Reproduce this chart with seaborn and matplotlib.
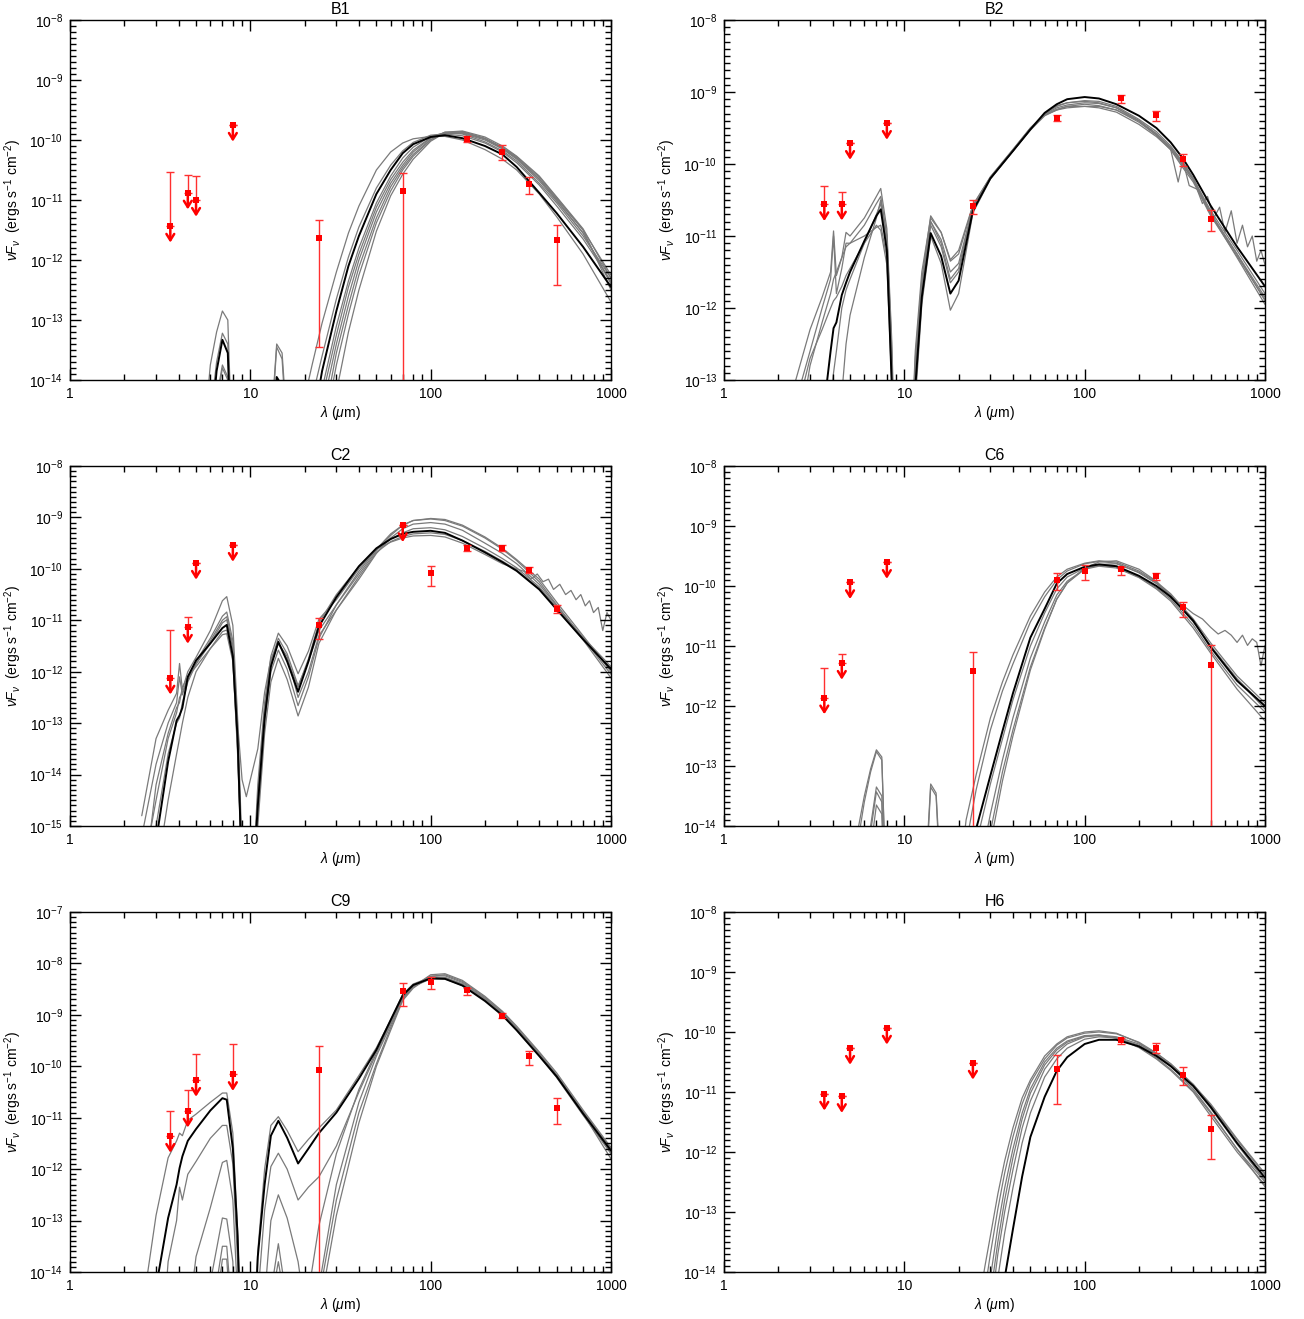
import numpy as np
import matplotlib
matplotlib.use("Agg")
import matplotlib.pyplot as plt
import matplotlib.ticker as mticker
import matplotlib.transforms as mtransforms
import seaborn as sns

# ====================== DATA (model curves stored as log10 of nuF_nu) ======================
# ---------- B1 ----------
B1_wl = [5.5, 6.0, 6.5, 7.0, 7.5, 8.0, 13, 14, 15, 16, 20, 22, 25, 30, 35, 40, 50, 60, 70, 80,
         100, 120, 150, 200, 250, 300, 400, 500, 700, 1000]
B1_best = [-17, -15, -13.85, -13.33, -13.55, -16, -15.5, -13.95, -14.1, -15.5, -15.5, -14.8, -13.85, -12.85,
           -12.1, -11.6, -10.9, -10.5, -10.22, -10.07, -9.95, -9.92, -9.97, -10.1, -10.24, -10.45, -10.88,
           -11.22, -11.78, -12.45]
B1_models = [
    [-15.0, -13.75, -13.2, -12.85, -13.0, -15.5, -14.8, -13.4, -13.55, -14.8, -14.3, -13.75, -13.05, -12.2,
     -11.55, -11.1, -10.5, -10.2, -10.05, -9.98, -9.94, -9.94, -10.0, -10.16, -10.32, -10.5, -10.9, -11.28,
     -11.9, -12.7],
    [-16, -14.6, -13.7, -13.22, -13.4, -16, -14.9, -13.45, -13.65, -15, -15.0, -14.3, -13.6, -12.65, -11.95,
     -11.45, -10.8, -10.42, -10.18, -10.04, -9.92, -9.9, -9.93, -10.05, -10.2, -10.38, -10.75, -11.1, -11.65,
     -12.35],
    [-17, -15.5, -14.3, -13.75, -13.95, -16, -20, -20, -20, -20, -17, -15.0, -14.15, -13.1, -12.35, -11.8,
     -11.05, -10.6, -10.3, -10.12, -9.94, -9.88, -9.9, -10.03, -10.18, -10.35, -10.72, -11.05, -11.6, -12.3],
    [-17, -15.6, -14.4, -13.8, -14.0, -16, -20, -20, -20, -20, -18, -16, -14.5, -13.4, -12.6, -12.0, -11.2,
     -10.72, -10.42, -10.2, -9.97, -9.87, -9.87, -9.98, -10.14, -10.3, -10.65, -10.98, -11.5, -12.25],
    [-20, -20, -20, -20, -20, -20, -20, -20, -20, -20, -19, -17, -15.0, -13.75, -12.9, -12.25, -11.38, -10.85,
     -10.5, -10.27, -10.0, -9.87, -9.85, -9.95, -10.1, -10.27, -10.6, -10.95, -11.48, -12.3],
    [-20, -20, -20, -20, -20, -20, -20, -20, -20, -20, -20, -18, -15.5, -14.2, -13.2, -12.5, -11.52, -10.93,
     -10.57, -10.32, -10.02, -9.88, -9.86, -9.97, -10.13, -10.3, -10.65, -11.0, -11.55, -12.4],
    [-20, -20, -20, -20, -20, -20, -20, -20, -20, -20, -18, -16, -14.3, -13.25, -12.45, -11.9, -11.12, -10.66,
     -10.37, -10.17, -9.96, -9.88, -9.89, -10.0, -10.15, -10.32, -10.68, -11.02, -11.55, -12.38],
    [-20, -20, -20, -20, -20, -20, -20, -20, -20, -20, -19, -17, -14.8, -13.55, -12.75, -12.12, -11.3, -10.78,
     -10.46, -10.24, -9.99, -9.89, -9.88, -9.98, -10.12, -10.28, -10.62, -10.96, -11.5, -12.5],
]
B1_obs_wl = [3.6, 4.5, 5.0, 8.0, 24, 70, 160, 250, 350, 500]
B1_obs_flux = [3.7e-12, 1.32e-11, 1.0e-11, 1.78e-10, 2.36e-12, 1.41e-11, 1.03e-10, 6.4e-11, 1.87e-11, 2.19e-12]
B1_obs_lo = [3.7e-12, 1.32e-11, 1.0e-11, 1.78e-10, 3.5e-14, 1e-16, 9.3e-11, 4.7e-11, 1.26e-11, 3.8e-13]
B1_obs_hi = [2.9e-11, 2.64e-11, 2.55e-11, 1.78e-10, 4.6e-12, 2.8e-11, 1.17e-10, 8.1e-11, 2.4e-11, 3.9e-12]
B1_obs_upper = [1, 1, 1, 1, 0, 0, 0, 0, 0, 0]

# ---------- B2 ----------
B2_wl = [2.5, 3.0, 3.5, 3.9, 4.05, 4.2, 4.5, 4.75, 5.0, 6.0, 7.0, 7.4, 8.0, 8.5, 9.0, 10.5, 11.5, 12.5, 14,
         16, 18, 20, 24, 30, 40, 50, 60, 70, 80, 100, 120, 150, 200, 250, 300, 350, 400, 500, 700, 1000]
B2_best = [-16, -15, -13.6, -12.6, -12.28, -12.2, -11.82, -11.65, -11.5, -11.07, -10.72, -10.63, -11.2, -13.0,
           -15, -15, -13.1, -11.85, -10.96, -11.28, -11.8, -11.62, -10.65, -10.2, -9.82, -9.52, -9.29, -9.17,
           -9.1, -9.07, -9.09, -9.17, -9.33, -9.5, -9.7, -9.92, -10.15, -10.58, -11.15, -11.7]
B2_models = [
    [-13.0, -12.3, -11.85, -11.5, -10.93, -11.55, -11.3, -10.95, -11.0, -10.75, -10.45, -10.34, -10.9, -12.4,
     -14.5, -15, -12.7, -11.6, -10.72, -10.95, -11.35, -11.25, -10.58, -10.18, -9.8, -9.5, -9.3, -9.2, -9.15,
     -9.12, -9.13, -9.2, -9.38, -9.55, -9.75, -9.97, -10.2, -10.65, -11.2, -11.8],
    [-13.3, -12.6, -12.0, -11.6, -11.0, -11.8, -11.45, -11.1, -11.1, -10.85, -10.55, -10.45, -11.0, -12.6,
     -15, -15, -12.8, -11.7, -10.8, -11.05, -11.5, -11.38, -10.6, -10.19, -9.81, -9.51, -9.31, -9.22, -9.18,
     -9.15, -9.16, -9.22, -9.4, -9.58, -9.78, -10.0, -10.22, -10.7, -11.25, -11.85],
    [-14, -12.8, -12.2, -11.8, -11.6, -11.5, -11.3, -11.15, -11.1, -11.0, -10.88, -10.85, -11.3, -12.8, -15,
     -15, -13.0, -11.8, -10.85, -11.15, -11.65, -11.5, -10.62, -10.2, -9.82, -9.52, -9.32, -9.24, -9.2, -9.17,
     -9.19, -9.25, -9.42, -9.6, -9.8, -10.05, -10.25, -10.72, -11.28, -11.88],
    [-16, -16, -15, -13.3, -12.9, -12.6, -12.0, -11.75, -11.6, -11.1, -10.7, -10.55, -11.1, -12.7, -15, -15,
     -13.3, -11.95, -11.0, -11.38, -12.03, -11.8, -10.68, -10.21, -9.82, -9.52, -9.3, -9.19, -9.15, -9.13,
     -9.15, -9.22, -9.4, -9.58, -9.77, -9.98, -10.2, -10.68, -11.25, -11.9],
    [-17, -17, -16, -16, -16, -15, -13.2, -12.5, -12.1, -11.3, -10.75, -10.5, -11.0, -12.5, -15, -15, -12.9,
     -11.7, -10.8, -11.1, -11.6, -11.45, -10.6, -10.2, -9.82, -9.53, -9.33, -9.25, -9.2, -9.2, -9.22, -9.28,
     -9.45, -9.62, -9.8, -10.02, -10.22, -10.7, -11.3, -11.95],
    [-13.5, -12.7, -12.3, -12.0, -11.9, -11.85, -11.7, -11.55, -11.45, -11.1, -10.85, -10.92, -11.4, -13.0,
     -15, -15, -12.6, -11.5, -10.75, -10.95, -11.33, -11.2, -10.57, -10.18, -9.8, -9.5, -9.32, -9.25, -9.22,
     -9.2, -9.2, -9.25, -9.4, -9.6, -9.8, np.nan, np.nan, np.nan, np.nan, np.nan],
]
B2_noisy_wl = [300, 330, 350, 380, 420, 450, 480, 520, 560, 600, 650, 700, 750, 800, 850, 900, 950, 1000]
B2_noisy = [-9.8, -10.25, -9.95, -10.3, -10.35, -10.55, -10.45, -10.75, -10.6, -10.95, -10.65, -11.1, -10.85,
            -11.15, -11.0, -11.35, -11.2, -11.4]
B2_obs_wl = [3.6, 4.5, 5.0, 8.0, 24, 70, 160, 250, 350, 500]
B2_obs_flux = [2.75e-11, 2.8e-11, 1.95e-10, 3.7e-10, 2.57e-11, 4.33e-10, 8.2e-10, 4.8e-10, 1.17e-10, 1.7e-11]
B2_obs_lo = [2.75e-11, 2.8e-11, 1.95e-10, 3.7e-10, 2.0e-11, 3.9e-10, 7.1e-10, 3.9e-10, 9.3e-11, 1.18e-11]
B2_obs_hi = [5.0e-11, 4.1e-11, 1.95e-10, 3.7e-10, 3.2e-11, 4.8e-10, 9.1e-10, 5.5e-10, 1.38e-10, 2.3e-11]
B2_obs_upper = [1, 1, 1, 1, 0, 0, 0, 0, 0, 0]

# ---------- C2 ----------
C2_wl = [2.5, 3.0, 3.5, 3.9, 4.05, 4.2, 4.5, 5.0, 6.0, 7.0, 7.4, 8.0, 8.5, 9.0, 9.5, 10, 11, 12, 13, 14.3,
         16, 18.4, 21, 24, 30, 40, 50, 60, 70, 80, 100, 120, 150, 200, 250, 300, 400, 500, 700, 1000]
C2_best = [-17, -15.3, -13.75, -12.95, -12.85, -12.7, -12.1, -11.78, -11.45, -11.15, -11.09, -11.7, -13.3,
           -16, -17, -17, -14.6, -12.9, -11.9, -11.42, -11.8, -12.39, -11.8, -11.12, -10.55, -9.95, -9.6,
           -9.42, -9.32, -9.28, -9.26, -9.3, -9.45, -9.68, -9.87, -10.04, -10.4, -10.79, -11.37, -11.95]
C2_models = [
    [-14.8, -13.3, -12.75, -12.42, -11.84, -12.35, -12.0, -11.72, -11.2, -10.62, -10.54, -11.1, -12.9, -15.5,
     -17, -17, -14.2, -12.6, -11.7, -11.25, -11.5, -12.04, -11.6, -10.98, -10.6, -10.0, -9.62, -9.32, -9.15,
     -9.06, -9.02, -9.04, -9.15, -9.38, -9.6, -9.82, -10.2, -10.65, -11.3, -12.0],
    [-15.2, -13.8, -13.0, -12.6, -12.1, -12.45, -12.1, -11.8, -11.35, -10.92, -10.84, -11.4, -13.2, -16, -17,
     -17, -14.4, -12.75, -11.8, -11.35, -11.65, -12.27, -11.8, -11.2, -10.7, -10.1, -9.65, -9.35, -9.15,
     -9.06, -9.03, -9.06, -9.17, -9.4, -9.62, -9.84, -10.25, -10.7, -11.35, -12.05],
    [-16, -14.5, -13.3, -12.8, -12.5, -12.4, -12.15, -11.85, -11.4, -11.0, -10.93, -11.5, -13.0, -14.1,
     -14.43, -14.1, -13.5, -12.4, -11.75, -11.45, -11.7, -12.5, -12.0, -11.3, -10.8, -10.2, -9.7, -9.4,
     -9.22, -9.13, -9.1, -9.13, -9.25, -9.5, -9.7, -9.9, -10.3, -10.72, -11.35, -11.95],
    [-17, -15, -13.6, -13.0, -12.9, -12.6, -12.2, -11.85, -11.45, -11.05, -10.99, -11.55, -13.4, -16, -17,
     -17, -14.8, -13.0, -12.0, -11.58, -11.95, -12.66, -12.1, -11.35, -10.7, -10.05, -9.62, -9.42, -9.3,
     -9.22, -9.2, -9.24, -9.37, -9.6, -9.8, -9.98, -10.35, -10.75, -11.33, -11.9],
    [-17, -16, -14.5, -13.6, -13.3, -13.0, -12.5, -12.0, -11.55, -11.22, -11.19, -11.75, -13.6, -16, -17,
     -17, -15, -13.2, -12.2, -11.74, -12.15, -12.86, -12.3, -11.45, -10.8, -10.15, -9.68, -9.47, -9.37,
     -9.32, -9.3, -9.33, -9.45, -9.66, -9.85, -10.02, -10.38, -10.78, -11.38, -12.12],
    [-16.5, -14.2, -13.2, -12.7, -12.6, -12.3, -12.1, -11.9, -11.55, -11.28, -11.26, -11.8, -13.5, -16, -17,
     -17, -14.5, -12.8, -11.85, -11.45, -11.75, -12.3, -11.75, -11.05, -10.5, -9.95, -9.62, -9.48, -9.4,
     -9.36, -9.35, -9.38, -9.5, -9.72, -9.9, -10.0, np.nan, np.nan, np.nan, np.nan],
]
C2_noisy_wl = [300, 330, 360, 390, 420, 450, 480, 520, 560, 600, 640, 680, 720, 760, 800, 850, 900, 950, 1000]
C2_noisy = [-10.0, -10.05, -10.2, -10.1, -10.25, -10.2, -10.4, -10.3, -10.5, -10.42, -10.6, -10.5, -10.72,
            -10.62, -10.85, -10.75, -11.2, -10.85, -11.0]
C2_obs_wl = [3.6, 4.5, 5.0, 8.0, 24, 70, 100, 160, 250, 350, 500]
C2_obs_flux = [7.6e-13, 7.4e-12, 1.3e-10, 2.9e-10, 8.1e-12, 7.0e-10, 8.3e-11, 2.58e-10, 2.55e-10, 9.3e-11, 1.69e-11]
C2_obs_lo = [7.6e-13, 7.4e-12, 1.3e-10, 2.9e-10, 4.3e-12, 7.0e-10, 4.6e-11, 2.2e-10, 2.2e-10, 8.3e-11, 1.38e-11]
C2_obs_hi = [6.6e-12, 1.15e-11, 1.3e-10, 2.9e-10, 1.12e-11, 7.0e-10, 1.14e-10, 2.9e-10, 2.9e-10, 1.07e-10, 2.0e-11]
C2_obs_upper = [1, 1, 1, 1, 0, 1, 0, 0, 0, 0, 0]

# ---------- C6 ----------
C6_wl = [5.5, 6.0, 6.5, 7.0, 7.5, 8.0, 13, 14, 15, 16, 20, 22, 25, 30, 35, 40, 50, 60, 70, 80,
         100, 120, 150, 200, 250, 300, 400, 500, 700, 1000]
C6_best = [-20, -20, -20, -20, -20, -20, -20, -20, -20, -20, -16, -15, -14.05, -13.16, -12.42, -11.79, -10.86,
           -10.38, -9.96, -9.8, -9.68, -9.64, -9.67, -9.83, -10.0, -10.18, -10.58, -11.02, -11.58, -12.0]
C6_models = [
    [-14.1, -13.5, -13.05, -12.73, -12.85, -15.5, -15, -13.3, -13.45, -15, -15, -13.9, -13.15, -12.2, -11.6,
     -11.15, -10.5, -10.1, -9.85, -9.72, -9.62, -9.58, -9.6, -9.75, -9.93, -10.13, -10.55, -10.95, -11.5, -11.95],
    [-14.3, -13.6, -13.1, -12.76, -12.9, -15.5, -15.2, -13.35, -13.5, -15.2, -15.5, -14.3, -13.4, -12.4,
     -11.75, -11.3, -10.6, -10.18, -9.9, -9.75, -9.63, -9.59, -9.62, -9.78, -9.96, -10.16, -10.6, -11.0,
     -11.55, -12.05],
    [-16, -15, -14.0, -13.35, -13.5, -16, -20, -20, -20, -20, -17, -15.5, -14.3, -13.3, -12.55, -11.9, -11.0,
     -10.45, -10.05, -9.85, -9.7, -9.66, -9.68, -9.85, -10.03, -10.22, -10.65, -11.08, -11.65, -12.1],
    [-16.5, -15.2, -14.1, -13.43, -13.6, -16, -20, -20, -20, -20, -18, -16, -15.0, -13.8, -12.9, -12.2, -11.2,
     -10.6, -10.15, -9.92, -9.72, -9.67, -9.7, -9.86, -10.05, -10.25, -10.7, -11.12, -11.72, -12.25],
    [-17, -15.5, -14.4, -13.65, -13.8, -16.5, -20, -20, -20, -20, -19, -17, -15.5, -14.1, -13.1, -12.4,
     -11.35, -10.7, -10.22, -9.95, -9.72, -9.64, -9.63, -9.77, -9.95, -10.15, -10.58, -11.0, -11.55, -12.0],
    [-20, -20, -20, -20, -20, -20, -20, -20, -20, -20, -19, -17.5, -15.8, -14.3, -13.25, -12.5, -11.4, -10.72,
     -10.22, -9.95, -9.7, -9.6, -9.58, -9.72, -9.92, np.nan, np.nan, np.nan, np.nan, np.nan],
]
C6_noisy_wl = [250, 300, 350, 400, 450, 500, 550, 600, 650, 700, 750, 800, 850, 900, 950, 1000]
C6_noisy = [-9.92, -10.2, -10.32, -10.46, -10.55, -10.69, -10.8, -10.74, -10.82, -10.94, -10.82, -10.99,
            -10.88, -10.94, -11.33, -10.99]
C6_obs_wl = [3.6, 4.5, 5.0, 8.0, 24, 70, 100, 160, 250, 350, 500]
C6_obs_flux = [1.38e-12, 5.2e-12, 1.15e-10, 2.5e-10, 3.9e-12, 1.24e-10, 1.76e-10, 1.9e-10, 1.47e-10, 4.4e-11, 4.9e-12]
C6_obs_lo = [1.38e-12, 5.2e-12, 1.15e-10, 2.5e-10, 1e-16, 8.7e-11, 1.24e-10, 1.52e-10, 1.24e-10, 3.0e-11, 1e-16]
C6_obs_hi = [4.3e-12, 7.4e-12, 1.15e-10, 2.5e-10, 7.8e-12, 1.63e-10, 2.2e-10, 2.1e-10, 1.67e-10, 5.5e-11, 1.03e-11]
C6_obs_upper = [1, 1, 1, 1, 0, 0, 0, 0, 0, 0, 0]

# ---------- C9 ----------
C9_wl = [2.5, 3.0, 3.5, 3.9, 4.05, 4.2, 4.5, 5.0, 6.0, 7.0, 7.4, 8.0, 8.5, 9.0, 9.5, 10, 11, 12, 13, 14.3,
         16, 18.4, 21, 24, 30, 40, 50, 60, 70, 80, 100, 120, 150, 200, 250, 300, 400, 500, 700, 1000]
C9_best = [-17, -14.3, -12.95, -12.3, -11.98, -11.75, -11.45, -11.22, -10.86, -10.62, -10.65, -11.6, -13.3,
           -16, -17, -17, -13.7, -12.3, -11.35, -11.06, -11.39, -11.89, -11.6, -11.3, -10.9, -10.24, -9.68,
           -9.1, -8.62, -8.42, -8.29, -8.3, -8.43, -8.73, -9.01, -9.3, -9.8, -10.2, -10.92, -11.64]
C9_models = [
    [-14.8, -12.9, -11.78, -11.45, -11.3, -11.35, -11.05, -10.93, -10.7, -10.52, -10.52, -11.3, -13.2, -16,
     -17, -17, -13.6, -12.0, -11.15, -10.98, -11.25, -11.66, -11.42, -11.2, -10.85, -10.18, -9.64, -9.1,
     -8.6, -8.4, -8.27, -8.28, -8.4, -8.7, -8.98, -9.27, -9.77, -10.17, -10.88, -11.6],
    [-20, -17, -13.8, -13.0, -12.35, -12.6, -12.1, -11.85, -11.4, -11.15, -11.15, -11.9, -13.8, -17, -20,
     -20, -14.5, -12.8, -11.95, -11.69, -12.0, -12.6, -12.35, -12.15, -11.55, -10.5, -9.75, -9.15, -8.65,
     -8.45, -8.3, -8.3, -8.43, -8.72, -9.0, -9.3, -9.8, -10.22, -10.95, -11.7],
    [-20, -20, -20, -20, -20, -20, -15, -13.7, -12.75, -11.87, -11.83, -12.6, -14.5, -20, -20, -20, -17,
     -14.5, -13.0, -12.5, -12.95, -13.8, -15.2, -14.5, -12.6, -10.9, -9.95, -9.25, -8.7, -8.45, -8.25,
     -8.24, -8.37, -8.68, -8.96, -9.25, -9.75, -10.17, -10.9, -11.62],
    [-20, -20, -20, -20, -20, -20, -20, -17, -14.2, -12.95, -12.97, -13.8, -17, -20, -20, -20, -20, -17,
     -14.4, -13.45, -14.6, -20, -20, -14.3, -12.3, -10.7, -9.8, -9.2, -8.68, -8.45, -8.22, -8.2, -8.33,
     -8.64, -8.93, -9.22, -9.72, -10.13, -10.85, -11.58],
    [-20, -20, -20, -20, -20, -20, -20, -18, -15.0, -13.5, -13.5, -15.0, -18, -20, -20, -20, -20, -18, -14.6,
     -13.8, -14.8, -20, -20, -14.8, -12.9, -11.1, -10.0, -9.3, -8.72, -8.48, -8.25, -8.22, -8.35, -8.66,
     -8.95, -9.25, -9.75, -10.18, -10.92, -11.8],
    [-20, -20, -20, -20, -20, -20, -20, -19, -15.5, -13.75, -13.75, -15.5, -19, -20, -20, -20, -20, -20, -20,
     -20, -20, -20, -14.4, -13.1, -11.7, -10.45, -9.7, -9.15, -8.66, -8.44, -8.28, -8.27, -8.4, -8.7, -8.99,
     -9.28, -9.78, -10.2, -10.9, -11.68],
]
C9_obs_wl = [3.6, 4.5, 5.0, 8.0, 24, 70, 100, 160, 250, 350, 500]
C9_obs_flux = [4.4e-12, 1.36e-11, 5.4e-11, 7.0e-11, 8.6e-11, 2.9e-9, 4.45e-9, 2.98e-9, 9.5e-10, 1.55e-10, 1.55e-11]
C9_obs_lo = [4.4e-12, 1.36e-11, 5.4e-11, 7.0e-11, 1e-16, 1.48e-9, 3.2e-9, 2.45e-9, 8.5e-10, 1.07e-10, 7.7e-12]
C9_obs_hi = [1.38e-11, 3.5e-11, 1.76e-10, 2.7e-10, 2.5e-10, 4.1e-9, 5.4e-9, 3.4e-9, 1.07e-9, 2.0e-10, 2.4e-11]
C9_obs_upper = [1, 1, 1, 1, 0, 0, 0, 0, 0, 0, 0]

# ---------- H6 ----------
H6_wl = [25, 28, 30, 33, 36, 40, 45, 50, 60, 70, 80, 100, 120, 150, 200, 250, 300, 400, 500, 700, 1000]
H6_best = [-18, -16.3, -15.6, -14.8, -14.1, -13.29, -12.41, -11.75, -11.08, -10.65, -10.42, -10.2, -10.13,
           -10.13, -10.24, -10.4, -10.57, -10.9, -11.25, -11.85, -12.43]
H6_models = [
    [-14.8, -13.9, -13.4, -12.7, -12.15, -11.6, -11.1, -10.8, -10.4, -10.2, -10.08, -10.0, -9.98, -10.02,
     -10.18, -10.38, -10.57, -10.95, -11.33, -11.95, -12.58],
    [-15.3, -14.3, -13.7, -12.95, -12.35, -11.75, -11.2, -10.85, -10.45, -10.22, -10.1, -10.02, -10.0, -10.03,
     -10.17, -10.35, -10.53, -10.9, -11.27, -11.87, -12.48],
    [-15.8, -14.7, -14.1, -13.25, -12.6, -11.95, -11.35, -10.95, -10.5, -10.27, -10.15, -10.06, -10.05,
     -10.08, -10.2, -10.36, -10.53, -10.87, -11.22, -11.8, -12.38],
    [-16.2, -15.0, -14.4, -13.5, -12.8, -12.1, -11.45, -11.02, -10.55, -10.3, -10.17, -10.07, -10.05, -10.1,
     -10.25, -10.43, -10.62, -10.98, -11.35, -11.95, -12.5],
    [-16.6, -15.3, -14.7, -13.7, -13.0, -12.3, -11.6, -11.15, -10.62, -10.35, -10.2, -10.08, -10.06, -10.1,
     -10.26, -10.45, -10.64, -11.0, -11.4, -12.0, -12.55],
    [-17, -15.8, -15.2, -14.1, -13.35, -12.6, -11.85, -11.35, -10.75, -10.45, -10.27, -10.12, -10.08, -10.1,
     -10.22, -10.38, -10.55, -10.88, -11.2, -11.78, -12.36],
]
H6_obs_wl = [3.6, 4.5, 5.0, 8.0, 24, 70, 160, 250, 350, 500]
H6_obs_flux = [9.3e-12, 8.5e-12, 5.4e-11, 1.17e-10, 3.05e-11, 2.42e-11, 7.3e-11, 5.4e-11, 1.95e-11, 2.4e-12]
H6_obs_lo = [9.3e-12, 8.5e-12, 5.4e-11, 1.17e-10, 3.05e-11, 6.3e-12, 6.3e-11, 4.5e-11, 1.32e-11, 7.6e-13]
H6_obs_hi = [9.3e-12, 8.5e-12, 5.4e-11, 1.17e-10, 3.05e-11, 4.2e-11, 8.0e-11, 6.5e-11, 2.6e-11, 4.1e-12]
H6_obs_upper = [1, 1, 1, 1, 1, 0, 0, 0, 0, 0]

PANEL_TITLES = ["B1", "B2", "C2", "C6", "C9", "H6"]
Y_RANGES = [(-14, -8), (-13, -8), (-15, -8), (-14, -8), (-14, -7), (-14, -8)]
X_TICKS = [1, 10, 100, 1000]

# ====================== STYLE ======================
sns.set_style("ticks")
plt.rcParams["font.family"] = ["Liberation Sans", "DejaVu Sans"]
plt.rcParams["mathtext.fontset"] = "custom"
plt.rcParams["mathtext.rm"] = "Liberation Sans"
plt.rcParams["mathtext.it"] = "Liberation Sans:italic"
plt.rcParams["mathtext.bf"] = "Liberation Sans:bold"
plt.rcParams["axes.linewidth"] = 1.0
plt.rcParams["axes.axisbelow"] = False
plt.rcParams["xtick.color"] = "black"
plt.rcParams["ytick.color"] = "black"
plt.rcParams["axes.edgecolor"] = "black"
plt.rcParams["text.color"] = "black"
plt.rcParams["axes.labelcolor"] = "black"

GRAY = "#7a7a7a"
RED = "#ff0000"

fig = plt.figure(figsize=(13.04, 13.19), dpi=100)
W, H = 1304.0, 1319.0
col_left = [70, 724]
row_top = [20, 466, 912]
aw, ah = 541, 360


def make_axes(i):
    r, c = divmod(i, 2)
    l = col_left[c] / W
    b = 1 - (row_top[r] + ah) / H
    return fig.add_axes([l, b, aw / W, ah / H])


def up_arrow(ax, x, y):
    tr = mtransforms.offset_copy(ax.transData, fig=fig, x=0, y=-12, units="points")
    ax.annotate("", xy=(x, y), xycoords=tr, xytext=(x, y), textcoords="data",
                arrowprops=dict(arrowstyle="->,head_length=0.45,head_width=0.28", color=RED,
                                lw=1.8, shrinkA=0, shrinkB=0), zorder=7, annotation_clip=False)


panels = [
    (B1_wl, B1_best, B1_models, None, None, B1_obs_wl, B1_obs_flux, B1_obs_lo, B1_obs_hi, B1_obs_upper),
    (B2_wl, B2_best, B2_models, B2_noisy_wl, B2_noisy, B2_obs_wl, B2_obs_flux, B2_obs_lo, B2_obs_hi, B2_obs_upper),
    (C2_wl, C2_best, C2_models, C2_noisy_wl, C2_noisy, C2_obs_wl, C2_obs_flux, C2_obs_lo, C2_obs_hi, C2_obs_upper),
    (C6_wl, C6_best, C6_models, C6_noisy_wl, C6_noisy, C6_obs_wl, C6_obs_flux, C6_obs_lo, C6_obs_hi, C6_obs_upper),
    (C9_wl, C9_best, C9_models, None, None, C9_obs_wl, C9_obs_flux, C9_obs_lo, C9_obs_hi, C9_obs_upper),
    (H6_wl, H6_best, H6_models, None, None, H6_obs_wl, H6_obs_flux, H6_obs_lo, H6_obs_hi, H6_obs_upper),
]

for i, (wl, best, models, nwl, nfl, owl, ofl, olo, ohi, oup) in enumerate(panels):
    ax = make_axes(i)
    ax.set_xscale("log")
    ax.set_yscale("log")
    ylo, yhi = Y_RANGES[i]

    wl_a = np.array(wl, dtype=float)
    for m in models:
        sns.lineplot(x=wl_a, y=10 ** np.array(m, dtype=float), ax=ax, color=GRAY, lw=0.9,
                     errorbar=None, estimator=None, sort=False, zorder=2)
    if nwl is not None:
        sns.lineplot(x=np.array(nwl, float), y=10 ** np.array(nfl, float), ax=ax, color=GRAY, lw=0.9,
                     errorbar=None, estimator=None, sort=False, zorder=2)
    sns.lineplot(x=wl_a, y=10 ** np.array(best, dtype=float), ax=ax, color="black", lw=1.4,
                 errorbar=None, estimator=None, sort=False, zorder=3)

    owl_a = np.array(owl, float)
    ofl_a = np.array(ofl, float)
    olo_a = np.array(olo, float)
    ohi_a = np.array(ohi, float)
    ax.errorbar(owl_a, ofl_a, yerr=[ofl_a - olo_a, ohi_a - ofl_a], fmt="none", ecolor="#ff3030",
                elinewidth=1.0, capsize=3.2, capthick=1.0, zorder=5)
    sns.scatterplot(x=owl_a, y=ofl_a, ax=ax, marker="s", s=18, color=RED, edgecolor=RED,
                    linewidth=0, zorder=6)
    for xw, yf, u in zip(owl, ofl, oup):
        if u:
            up_arrow(ax, xw, yf)

    ax.set_xlim(1, 1000)
    ax.set_ylim(10.0 ** ylo, 10.0 ** yhi)
    ax.xaxis.set_major_locator(mticker.FixedLocator(X_TICKS))
    ax.xaxis.set_major_formatter(mticker.FixedFormatter([str(t) for t in X_TICKS]))
    ax.xaxis.set_minor_locator(mticker.FixedLocator(
        [m * 10.0 ** e for e in range(0, 3) for m in range(2, 10)]))
    ax.xaxis.set_minor_formatter(mticker.NullFormatter())
    ax.yaxis.set_major_locator(mticker.FixedLocator([10.0 ** e for e in range(ylo, yhi + 1)]))
    ax.yaxis.set_major_formatter(mticker.FixedFormatter(
        [r"$10^{%d}$" % e for e in range(ylo, yhi + 1)]))
    ax.yaxis.set_minor_locator(mticker.FixedLocator(
        [10.0 ** (e + k / 10.0) for e in range(ylo, yhi) for k in range(1, 10)]))
    ax.yaxis.set_minor_formatter(mticker.NullFormatter())
    ax.set_axisbelow(False)
    ax.tick_params(which="both", direction="in", top=True, right=True, bottom=True, left=True,
                   color="black", width=1.0)
    ax.tick_params(which="major", length=8, labelsize=10, pad=5)
    ax.tick_params(which="minor", length=4)
    for s in ax.spines.values():
        s.set_visible(True)
        s.set_linewidth(1.0)
        s.set_color("black")
    ax.set_title(PANEL_TITLES[i], fontsize=11.5, pad=4)
    ax.set_xlabel(r"$\lambda$ ($\mu$m)", fontsize=10, labelpad=2)
    ax.set_ylabel(r"$\nu F_\nu$  (ergs s$^{-1}$ cm$^{-2}$)", fontsize=10, labelpad=4)

fig.savefig("out.png", dpi=100)
